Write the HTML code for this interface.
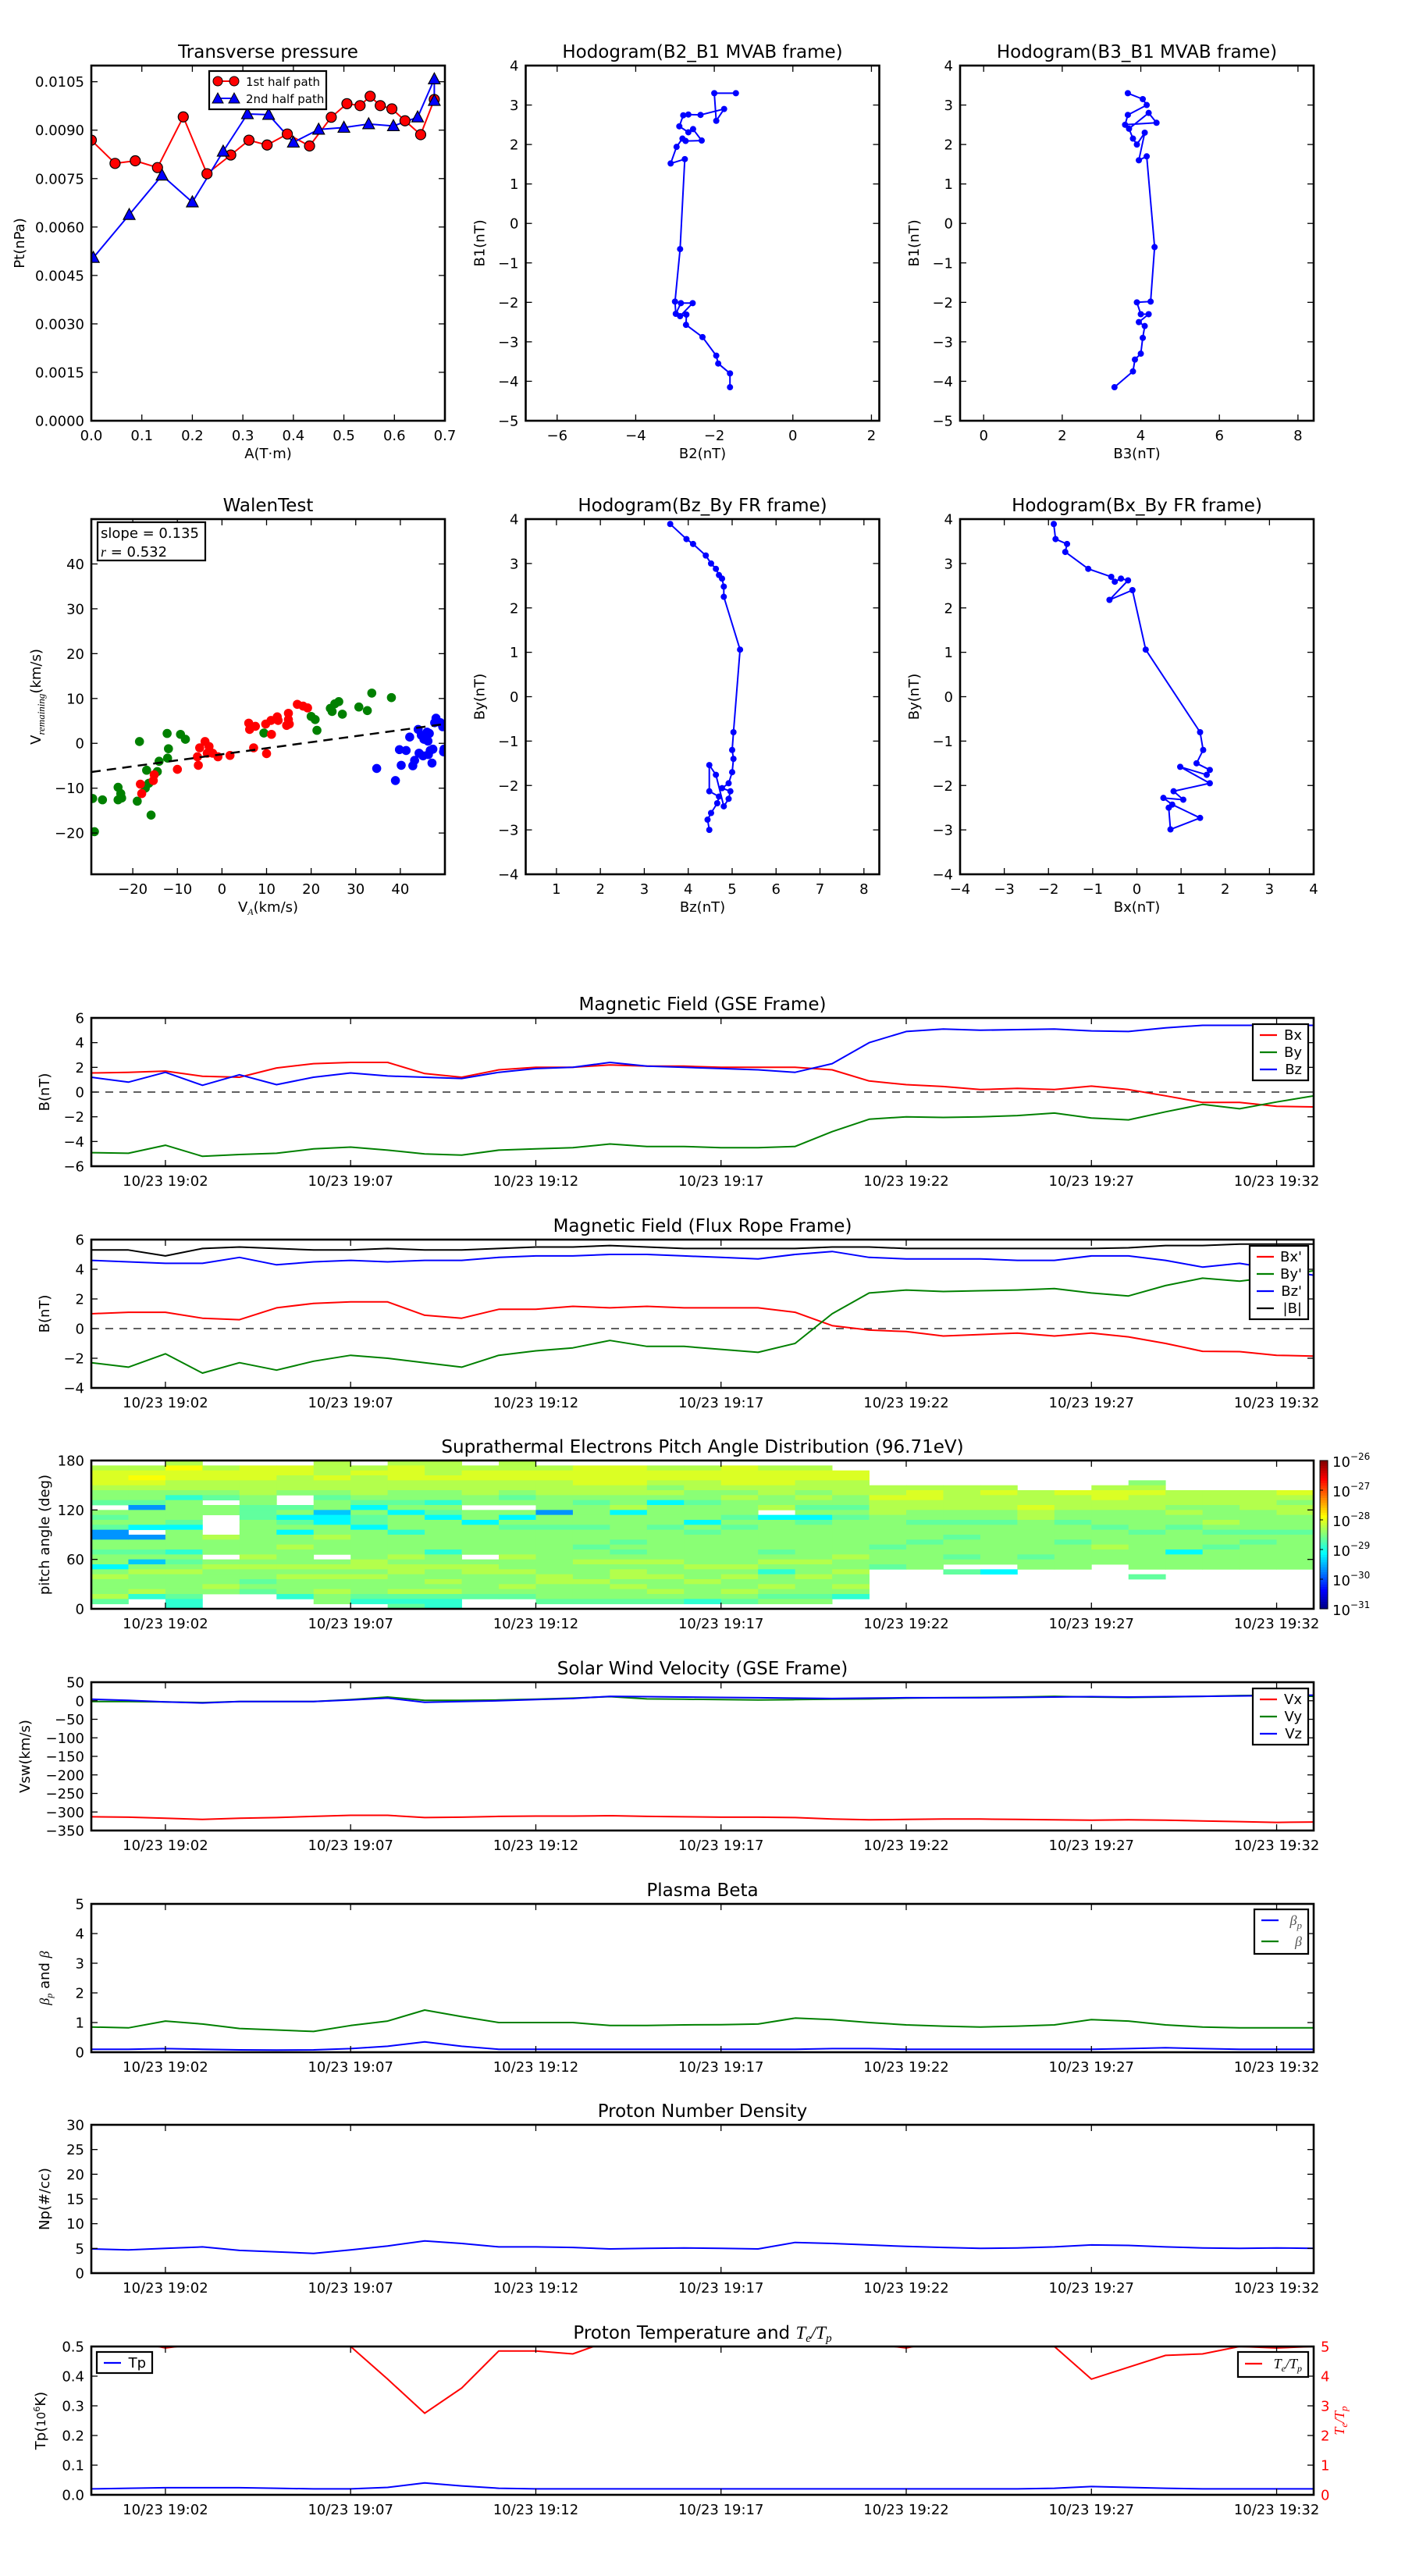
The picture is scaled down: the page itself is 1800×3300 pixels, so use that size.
<!DOCTYPE html>
<html><head><meta charset="utf-8"><style>
html,body{margin:0;padding:0;background:#fff;}
svg{display:block;font-family:"DejaVu Sans","Liberation Sans",sans-serif;}
</style></head>
<body>
<svg id="fig" width="1800" height="3300" viewBox="0 0 1800 3300" xmlns="http://www.w3.org/2000/svg"></svg>
<script>
// ---------------- DATA ----------------
const ptA1=[0,0.047,0.087,0.131,0.182,0.229,0.276,0.312,0.348,0.388,0.432,0.475,0.506,0.532,0.552,0.572,0.595,0.621,0.652,0.679];
const ptP1=[0.00869,0.00797,0.00805,0.00784,0.00941,0.00765,0.00823,0.00869,0.00854,0.00888,0.00851,0.0094,0.00982,0.00976,0.01005,0.00976,0.00966,0.00929,0.00886,0.00995];
const ptA2=[0.004,0.075,0.14,0.2,0.261,0.309,0.351,0.4,0.45,0.5,0.549,0.598,0.646,0.679,0.679];
const ptP2=[0.00505,0.00638,0.0076,0.00677,0.00834,0.0095,0.00948,0.00862,0.00902,0.00908,0.00919,0.00913,0.0094,0.01058,0.00991];
const ptXTicks=[0,0.1,0.2,0.3,0.4,0.5,0.6,0.7];
const ptYTicks=[0,0.0015,0.003,0.0045,0.006,0.0075,0.009,0.0105];
const h1B2=[-1.45,-2.0,-1.95,-1.75,-2.35,-2.66,-2.79,-2.89,-2.66,-2.54,-2.32,-2.73,-2.81,-2.96,-3.11,-2.75,-2.87,-3.0,-2.98,-2.85,-2.55,-2.87,-2.71,-2.72,-2.3,-1.95,-1.9,-1.6,-1.6];
const h1B1=[3.3,3.3,2.6,2.9,2.75,2.76,2.74,2.46,2.31,2.39,2.1,2.09,2.15,1.94,1.52,1.63,-0.65,-1.98,-2.29,-2.02,-2.02,-2.35,-2.31,-2.57,-2.88,-3.35,-3.55,-3.8,-4.15];
const h2B3=[3.67,4.05,4.15,3.67,3.6,4.4,4.2,3.7,3.8,3.9,4.1,3.95,4.15,4.35,4.25,3.9,4.0,4.2,3.95,4.1,4.05,4.0,3.85,3.8,3.33];
const h2B1=[3.3,3.15,3.0,2.75,2.5,2.55,2.8,2.4,2.15,2.0,2.3,1.6,1.7,-0.6,-1.98,-2.0,-2.3,-2.3,-2.5,-2.6,-2.9,-3.3,-3.45,-3.75,-4.15];
const wGreenX=[-29,-26.8,-28.6,-23.3,-23.3,-22.7,-22.5,-19,-18.5,-17.2,-16.9,-16.4,-15.9,-14.5,-14.1,-12.3,-12.2,-12,-9.3,-8.2,9.4,20,20.9,21.3,24.3,24.7,25.3,26.2,27,30.7,32.6,33.6,38];
const wGreenY=[-12.3,-12.6,-19.7,-9.8,-12.6,-11.2,-12.2,-12.9,0.4,-10,-6,-8.9,-16,-6.3,-4,2.2,-3.3,-1.2,2,0.9,2.3,6,5.3,2.9,7.8,7.1,8.8,9.3,6.5,8.1,7.3,11.2,10.2];
const wRedX=[-18.3,-18,-15.4,-15.2,-10,-5.5,-5.3,-5,-3.8,-2.9,-3.3,-2.1,-0.9,1.8,6,6.2,7.5,7.1,10,9.8,11,11.1,12.4,12.6,14.5,14.9,14.9,15.1,16.9,18.2,19.2];
const wRedY=[-9.1,-11.2,-8.3,-7,-5.8,-3,-4.9,-1,0.4,-0.7,-2.2,-2.2,-3,-2.7,4.5,3.1,3.8,-1,-2.3,4.3,5.1,2,5.9,5.1,4,6.7,5.3,4.3,8.7,8.3,7.9];
const wBlueX=[34.7,38.9,39.8,40.2,41.3,42.1,42.8,43.2,44,44.2,44.7,45.1,45.3,46,46.2,46.3,46.5,46.7,47.1,47.3,47.7,48,49,49.5,49.7,49.8];
const wBlueY=[-5.6,-8.3,-1.4,-4.9,-1.6,1.4,-5,-3.8,3.1,-2.2,1.8,-2.8,0.9,2.5,0.5,-2.5,2.2,-1.6,-4.4,-1.3,4.6,5.6,4.6,3.7,-1.9,-1.3];
const wSlope=[0.135];
const wIntercept=[-2.44];
const wXTicks=[-20,-10,0,10,20,30,40];
const wYTicks=[-20,-10,0,10,20,30,40];
const h3Bz=[3.59,3.96,4.11,4.4,4.52,4.63,4.7,4.77,4.81,4.81,5.18,5.03,5.0,5.03,5.0,4.92,4.77,4.96,4.92,4.81,4.63,4.48,4.48,4.7,4.66,4.52,4.44,4.48];
const h3By=[3.89,3.55,3.44,3.18,3.0,2.88,2.74,2.66,2.48,2.25,1.06,-0.8,-1.2,-1.4,-1.7,-1.95,-2.06,-2.13,-2.3,-2.47,-1.76,-1.54,-2.13,-2.25,-2.4,-2.62,-2.77,-3.0];
const h4Bx=[-1.88,-1.84,-1.58,-1.62,-1.1,-0.58,-0.5,-0.36,-0.2,-0.62,-0.1,0.2,1.43,1.5,1.35,1.65,1.58,0.98,1.65,0.83,1.05,0.6,0.8,1.43,0.76,0.72];
const h4By=[3.89,3.55,3.44,3.26,2.88,2.7,2.59,2.66,2.62,2.18,2.4,1.06,-0.8,-1.2,-1.5,-1.65,-1.76,-1.58,-1.95,-2.13,-2.32,-2.28,-2.43,-2.73,-2.99,-2.5];
const tMin=[0,1,2,3,4,5,6,7,8,9,10,11,12,13,14,15,16,17,18,19,20,21,22,23,24,25,26,27,28,29,30,31,32,33];
const timeTickMin=[2,7,12,17,22,27,32];
const timeTickLbl=["10/23 19:02","10/23 19:07","10/23 19:12","10/23 19:17","10/23 19:22","10/23 19:27","10/23 19:32"];
const gseBx=[1.55,1.6,1.7,1.28,1.2,1.95,2.3,2.4,2.4,1.5,1.2,1.8,2.0,2.0,2.2,2.1,2.1,2.0,2.0,2.0,1.8,0.9,0.6,0.45,0.2,0.3,0.2,0.48,0.2,-0.3,-0.84,-0.84,-1.15,-1.2];
const gseBy=[-4.9,-4.95,-4.3,-5.2,-5.05,-4.95,-4.6,-4.45,-4.7,-5.0,-5.1,-4.7,-4.6,-4.5,-4.2,-4.4,-4.4,-4.5,-4.5,-4.4,-3.2,-2.2,-2.0,-2.05,-2.0,-1.9,-1.7,-2.1,-2.25,-1.6,-1.0,-1.35,-0.8,-0.3];
const gseBz=[1.2,0.8,1.6,0.55,1.4,0.6,1.2,1.55,1.3,1.2,1.1,1.6,1.9,2.0,2.4,2.1,2.0,1.9,1.8,1.6,2.3,4.0,4.9,5.1,5.0,5.05,5.1,4.95,4.9,5.2,5.4,5.4,5.4,5.4];
const frBx=[1.0,1.1,1.1,0.7,0.6,1.4,1.7,1.8,1.8,0.9,0.7,1.3,1.3,1.5,1.4,1.5,1.4,1.4,1.4,1.1,0.2,-0.1,-0.2,-0.5,-0.4,-0.3,-0.5,-0.3,-0.56,-1.0,-1.53,-1.55,-1.8,-1.85];
const frBy=[-2.3,-2.6,-1.7,-3.0,-2.3,-2.8,-2.2,-1.8,-2.0,-2.3,-2.6,-1.8,-1.5,-1.3,-0.8,-1.2,-1.2,-1.4,-1.6,-1.0,1.0,2.4,2.6,2.5,2.55,2.6,2.7,2.4,2.2,2.9,3.4,3.2,3.5,3.9];
const frBz=[4.6,4.5,4.4,4.4,4.8,4.3,4.5,4.6,4.5,4.6,4.6,4.8,4.9,4.9,5.0,5.0,4.9,4.8,4.7,5.0,5.2,4.8,4.7,4.7,4.7,4.6,4.6,4.9,4.9,4.6,4.15,4.4,4.0,3.6];
const frB=[5.3,5.3,4.9,5.4,5.5,5.4,5.3,5.3,5.4,5.3,5.3,5.4,5.5,5.5,5.6,5.5,5.4,5.4,5.4,5.4,5.5,5.5,5.4,5.4,5.4,5.4,5.4,5.4,5.45,5.6,5.6,5.7,5.7,5.7];
const padCols=[
".ghhhgffe.fefeaaffeffcfgfffge..",
".ghihgffeafffc.affefbfgfffgd...",
"gihhggfdffffecffffdfefgffffedd.",
".ghhggfe.ff....gfff.fgfffgf....",
".hhhgggffeeefffffffgfgffefe....",
".hhgggf..efcefcffgfffgfgfffd...",
"ggghggfeffbccffgfff.fgfgffgff..",
".ghggggfecfeecffffffggfgfffed..",
"ghhhggffefcfffdffffgfggfffgede.",
"ggghggffdfecffffffdffgffgfgedd.",
".ghhgggff.ffcffffff.fggffffe...",
"gghhggfef.fcfefffffgffgffgfe...",
".ghhgggfffaffefffffffffggfffe..",
".hhhhggfeffffefffeffgfffgfffe..",
".hhhhggffgcfffffefefgfggfgffe..",
".ghhgfgfcffffeffffffgffgffgfe..",
".ghhggffefffcfeffffffgffgfffd..",
".hhhhgfgfffefefffffffgfgffgfe..",
".ghhhggffg.cffffffefgfdffgfef..",
".ghhggfgfefcefffffffgffgfffef..",
"..hhgggffefefffffffgffgffgfd...",
".....gghgggffffffefffe.........",
".....ghhggffefffefffff.........",
".....gggggffeffefffef.e........",
".....ghgggffeffffffff.c........",
"......ggghggfffffffeff.........",
"......hgggffefffefffff.........",
".....ghhggfffefffgfff..........",
"....fghgggffffefffffff.e.......",
"......gggfgffeffffcfff.........",
"......gggfffgfeffeffff.........",
"......ggggffffefefffff.........",
"......hgfggfffefffffff........."
];
const padLevels={a:0.27,b:0.32,c:0.37,d:0.42,e:0.47,f:0.51,g:0.55,h:0.59,i:0.62};
const cbTicks=[-26,-27,-28,-29,-30,-31];
const vx=[-313,-314,-317,-320,-317,-315,-312,-309,-309,-315,-314,-312,-311,-311,-310,-312,-313,-314,-314,-315,-319,-321,-320,-319,-319,-320,-321,-322,-321,-322,-324,-326,-328,-327];
const vy=[-2,-2,-3,-5,-2,-2,-2,3,10,1,1,2,4,7,11,5,4,3,2,3,4,5,7,8,9,10,12,10,9,10,12,14,15,12];
const vz=[4,1,-3,-6,-2,-2,-2,2,7,-4,-2,0,3,6,12,11,10,9,8,7,6,7,8,8,8,9,10,11,10,11,12,13,14,15];
const betaP=[0.1,0.1,0.12,0.1,0.08,0.07,0.08,0.12,0.2,0.35,0.2,0.1,0.1,0.1,0.1,0.1,0.1,0.1,0.1,0.1,0.12,0.12,0.1,0.1,0.1,0.1,0.1,0.1,0.12,0.15,0.12,0.1,0.1,0.1];
const betaT=[0.85,0.82,1.05,0.95,0.8,0.75,0.7,0.9,1.05,1.42,1.2,1.0,1.0,1.0,0.9,0.9,0.92,0.93,0.95,1.15,1.1,1.0,0.92,0.88,0.85,0.88,0.92,1.1,1.05,0.92,0.85,0.82,0.82,0.82];
const np=[4.9,4.7,5.0,5.3,4.6,4.3,4.0,4.7,5.5,6.5,6.0,5.3,5.3,5.2,4.9,5.0,5.1,5.0,4.9,6.2,6.0,5.7,5.4,5.2,5.0,5.1,5.3,5.7,5.6,5.3,5.1,5.0,5.1,5.0];
const tp=[0.02,0.022,0.024,0.024,0.024,0.022,0.02,0.02,0.025,0.04,0.03,0.022,0.02,0.02,0.02,0.02,0.02,0.02,0.02,0.02,0.02,0.02,0.02,0.02,0.02,0.02,0.022,0.028,0.025,0.022,0.02,0.02,0.02,0.02];
const teTp=[5.4,5.2,4.95,5.1,5.3,5.2,5.1,5.0,3.9,2.75,3.6,4.85,4.85,4.75,5.2,5.5,5.4,5.3,5.4,5.3,5.2,5.1,4.95,5.2,5.3,5.2,5.0,3.9,4.3,4.7,4.75,5.0,4.95,5.0];

// ---------------- DRAWING ----------------
const NS='http://www.w3.org/2000/svg';
const svg=document.getElementById('fig');
let clipN=0;
function mk(tag,attrs,name,parent){
  const el=document.createElementNS(NS,tag);
  for(const k in attrs) el.setAttribute(k,attrs[k]);
  
  
  (parent||svg).appendChild(el);
  return el;
}
function txt(x,y,html,size,anchor,name,extra,parent){
  const a={x:x,y:y,'font-size':size,'text-anchor':anchor||'middle',fill:'#000'};
  if(extra) for(const k in extra) a[k]=extra[k];
  const el=mk('text',a,name,parent);
  el.innerHTML=html;
  return el;
}
function axes(o){
  const g=mk('g',{},o.name);
  const sx=v=>o.x+(v-o.xmin)/(o.xmax-o.xmin)*o.w;
  const sy=v=>o.y+o.h-(v-o.ymin)/(o.ymax-o.ymin)*o.h;
  const cid='clip'+(clipN++);
  const cp=mk('clipPath',{id:cid},'clip-region',g);
  mk('rect',{x:o.x,y:o.y,width:o.w,height:o.h},'clip-rect',cp);
  const data=mk('g',{'clip-path':'url(#'+cid+')'},'plot-area',g);
  return {g,sx,sy,data,o};
}
function finishAxes(A,xt,xl,yt,yl,opt){
  const o=A.o,g=A.g;opt=opt||{};
  const tl=8;
  xt.forEach((v,i)=>{
    const X=A.sx(v);
    mk('line',{x1:X,x2:X,y1:o.y+o.h,y2:o.y+o.h-tl,stroke:'#000','stroke-width':1.3},'x-tick',g);
    mk('line',{x1:X,x2:X,y1:o.y,y2:o.y+tl,stroke:'#000','stroke-width':1.3},'x-tick-top',g);
    txt(X,o.y+o.h+25,xl[i],18,'middle','x-tick-label',null,g);
  });
  yt.forEach((v,i)=>{
    const Y=A.sy(v);
    mk('line',{x1:o.x,x2:o.x+tl,y1:Y,y2:Y,stroke:'#000','stroke-width':1.3},'y-tick',g);
    if(!opt.noRightTicks) mk('line',{x1:o.x+o.w,x2:o.x+o.w-tl,y1:Y,y2:Y,stroke:'#000','stroke-width':1.3},'y-tick-right',g);
    txt(o.x-9,Y+6.5,yl[i],18,'end','y-tick-label',null,g);
  });
  mk('rect',{x:o.x,y:o.y,width:o.w,height:o.h,fill:'none',stroke:'#000','stroke-width':2.6},'axes-frame',g);
  if(o.title) txt(o.x+o.w/2,o.y-10,o.title,23,'middle','chart-title',null,g);
  if(o.xlabel) txt(o.x+o.w/2,o.y+o.h+o.xlabOff,o.xlabel,18,'middle','x-axis-title',null,g);
  if(o.ylabel){txt(o.ylabX,o.y+o.h/2,o.ylabel,18,'middle','y-axis-title',{transform:'rotate(-90 '+o.ylabX+' '+(o.y+o.h/2)+')'},g);}
}
function polyline(A,xs,ys,color,name,w){
  const pts=xs.map((x,i)=>A.sx(x).toFixed(1)+','+A.sy(ys[i]).toFixed(1)).join(' ');
  return mk('polyline',{points:pts,fill:'none',stroke:color,'stroke-width':w||2,'stroke-linejoin':'round'},name,A.data);
}
function dots(A,xs,ys,color,r,name,stroke){
  xs.forEach((x,i)=>{
    mk('circle',{cx:A.sx(x),cy:A.sy(ys[i]),r:r,fill:color,stroke:stroke||'none','stroke-width':1.2},name,A.data);
  });
}
function tris(A,xs,ys,color,name){
  xs.forEach((x,i)=>{
    const X=A.sx(x),Y=A.sy(ys[i]);
    mk('polygon',{points:`${X},${Y-8} ${X-7.5},${Y+6} ${X+7.5},${Y+6}`,fill:color,stroke:'#000','stroke-width':1.2},name,A.data);
  });
}
function legend(x,y,w,h,entries,rowH,name){
  const g=mk('g',{},name);
  mk('rect',{x:x,y:y,width:w,height:h,fill:'#fff',stroke:'#000','stroke-width':2.2},'legend-box',g);
  entries.forEach((e,i)=>{
    const Y=y+14+rowH*i+(e.dy||0);
    mk('line',{x1:x+9,x2:x+31,y1:Y,y2:Y,stroke:e.color,'stroke-width':2.2},'legend-line-'+e.key,g);
    txt(x+w-8,Y+6,e.label,18,'end','legend-label-'+e.key,e.tattr||null,g);
  });
}
const fmtInt=v=>(v<0?'\u2212':'')+Math.abs(v);

const R1Y=84,RH=455,PW=453,PX=[117,673.5,1230],R2Y=665;
{
  const A=axes({name:'transverse-pressure-chart',x:PX[0],y:R1Y,w:PW,h:RH,xmin:0,xmax:0.7,ymin:0,ymax:0.011,title:'Transverse pressure',xlabel:'A(T·m)',xlabOff:48,ylabel:'Pt(nPa)',ylabX:31});
  polyline(A,ptA1,ptP1,'#ff0000','first-half-line',2);
  polyline(A,ptA2,ptP2,'#0000ff','second-half-line',2);
  dots(A,ptA1,ptP1,'#ff0000',6.5,'first-half-marker','#000');
  tris(A,ptA2,ptP2,'#0000ff','second-half-marker');
  finishAxes(A,ptXTicks,ptXTicks.map(v=>v.toFixed(1)),ptYTicks,ptYTicks.map(v=>v.toFixed(4)));
  const g=mk('g',{},'legend');
  mk('rect',{x:268,y:91,width:150,height:49,fill:'#fff',stroke:'#000','stroke-width':2.2},'legend-box',g);
  mk('line',{x1:279,x2:300,y1:104,y2:104,stroke:'#f00','stroke-width':2},'legend-line-first',g);
  mk('circle',{cx:279,cy:104,r:6,fill:'#f00',stroke:'#000'},'legend-marker-first',g);
  mk('circle',{cx:300,cy:104,r:6,fill:'#f00',stroke:'#000'},'legend-marker-first',g);
  txt(315,110,'1st half path',15,'start','legend-label-first',null,g);
  mk('line',{x1:279,x2:300,y1:126,y2:126,stroke:'#00f','stroke-width':2},'legend-line-second',g);
  mk('polygon',{points:'279,119 272,132 286,132',fill:'#00f',stroke:'#000'},'legend-marker-second',g);
  mk('polygon',{points:'300,119 293,132 307,132',fill:'#00f',stroke:'#000'},'legend-marker-second',g);
  txt(315,132,'2nd half path',15,'start','legend-label-second',null,g);
}
{
  const A=axes({name:'hodogram-b2-b1-chart',x:PX[1],y:R1Y,w:PW,h:RH,xmin:-6.8,xmax:2.2,ymin:-5,ymax:4,title:'Hodogram(B2_B1 MVAB frame)',xlabel:'B2(nT)',xlabOff:48,ylabel:'B1(nT)',ylabX:PX[1]-53});
  polyline(A,h1B2,h1B1,'#0000ff','hodogram-path',2);
  dots(A,h1B2,h1B1,'#0000ff',4,'hodogram-point');
  const xt=[-6,-4,-2,0,2],yt=[-5,-4,-3,-2,-1,0,1,2,3,4];
  finishAxes(A,xt,xt.map(fmtInt),yt,yt.map(fmtInt));
}
{
  const A=axes({name:'hodogram-b3-b1-chart',x:PX[2],y:R1Y,w:PW,h:RH,xmin:-0.6,xmax:8.4,ymin:-5,ymax:4,title:'Hodogram(B3_B1 MVAB frame)',xlabel:'B3(nT)',xlabOff:48,ylabel:'B1(nT)',ylabX:PX[2]-53});
  polyline(A,h2B3,h2B1,'#0000ff','hodogram-path',2);
  dots(A,h2B3,h2B1,'#0000ff',4,'hodogram-point');
  const xt=[0,2,4,6,8],yt=[-5,-4,-3,-2,-1,0,1,2,3,4];
  finishAxes(A,xt,xt.map(fmtInt),yt,yt.map(fmtInt));
}
{
  const A=axes({name:'walen-test-chart',x:PX[0],y:R2Y,w:PW,h:RH,xmin:-29.3,xmax:50,ymin:-29.2,ymax:50,title:'WalenTest',xlabel:'V<tspan font-size="12" dy="4" font-style="italic" font-family="Liberation Serif, serif">A</tspan><tspan dy="-4">(km/s)</tspan>',xlabOff:48,ylabel:'V<tspan font-size="13" dy="5" font-style="italic" font-family="Liberation Serif, serif">remaining</tspan><tspan dy="-5">(km/s)</tspan>',ylabX:52});
  dots(A,wGreenX,wGreenY,'#008000',5.8,'walen-point-green');
  dots(A,wRedX,wRedY,'#ff0000',5.8,'walen-point-red');
  dots(A,wBlueX,wBlueY,'#0000ff',5.8,'walen-point-blue');
  const xa=[-29.3,50];
  mk('line',{x1:A.sx(xa[0]),y1:A.sy(wSlope[0]*xa[0]+wIntercept[0]),x2:A.sx(xa[1]),y2:A.sy(wSlope[0]*xa[1]+wIntercept[0]),stroke:'#000','stroke-width':2.5,'stroke-dasharray':'12,8'},'regression-line',A.data);
  finishAxes(A,wXTicks,wXTicks.map(fmtInt),wYTicks,wYTicks.map(fmtInt));
  mk('rect',{x:125,y:669,width:138,height:49,fill:'#fff',stroke:'#000','stroke-width':2.2},'stats-box');
  txt(129,689,'slope = 0.135',18,'start','slope-text');
  txt(129,713,'<tspan font-style="italic" font-family="Liberation Serif, serif">r</tspan> = 0.532',18,'start','r-text');
}
{
  const A=axes({name:'hodogram-bz-by-chart',x:PX[1],y:R2Y,w:PW,h:RH,xmin:0.3,xmax:8.35,ymin:-4,ymax:4,title:'Hodogram(Bz_By FR frame)',xlabel:'Bz(nT)',xlabOff:48,ylabel:'By(nT)',ylabX:PX[1]-53});
  polyline(A,h3Bz,h3By,'#0000ff','hodogram-path',2);
  dots(A,h3Bz,h3By,'#0000ff',4,'hodogram-point');
  const xt=[1,2,3,4,5,6,7,8],yt=[-4,-3,-2,-1,0,1,2,3,4];
  finishAxes(A,xt,xt.map(fmtInt),yt,yt.map(fmtInt));
}
{
  const A=axes({name:'hodogram-bx-by-chart',x:PX[2],y:R2Y,w:PW,h:RH,xmin:-4,xmax:4,ymin:-4,ymax:4,title:'Hodogram(Bx_By FR frame)',xlabel:'Bx(nT)',xlabOff:48,ylabel:'By(nT)',ylabX:PX[2]-53});
  polyline(A,h4Bx,h4By,'#0000ff','hodogram-path',2);
  dots(A,h4Bx,h4By,'#0000ff',4,'hodogram-point');
  const xt=[-4,-3,-2,-1,0,1,2,3,4],yt=[-4,-3,-2,-1,0,1,2,3,4];
  finishAxes(A,xt,xt.map(fmtInt),yt,yt.map(fmtInt));
}
const TX=117,TW=1566,TH=190,TT=[1304,1588,1871,2155,2439,2722,3006];
function ts(i,name,title,ymin,ymax,ylabel,ylabX){
  return axes({name:name,x:TX,y:TT[i],w:TW,h:TH,xmin:0,xmax:33,ymin:ymin,ymax:ymax,title:title,ylabel:ylabel,ylabX:ylabX||63});
}
function zeroLine(A){mk('line',{x1:A.o.x,x2:A.o.x+A.o.w,y1:A.sy(0),y2:A.sy(0),stroke:'#000','stroke-width':1.3,'stroke-dasharray':'10,8'},'zero-line',A.data);}
{
  const A=ts(0,'magnetic-field-gse-chart','Magnetic Field (GSE Frame)',-6,6,'B(nT)');
  zeroLine(A);
  polyline(A,tMin,gseBx,'#ff0000','bx-line');
  polyline(A,tMin,gseBy,'#008000','by-line');
  polyline(A,tMin,gseBz,'#0000ff','bz-line');
  const yt=[-6,-4,-2,0,2,4,6];
  finishAxes(A,timeTickMin,timeTickLbl,yt,yt.map(fmtInt));
  legend(1605,1312,71,72,[{key:'bx',color:'#f00',label:'Bx'},{key:'by',color:'#008000',label:'By'},{key:'bz',color:'#00f',label:'Bz'}],22,'legend');
}
{
  const A=ts(1,'magnetic-field-fr-chart','Magnetic Field (Flux Rope Frame)',-4,6,'B(nT)');
  zeroLine(A);
  polyline(A,tMin,frBx,'#ff0000','bx-prime-line');
  polyline(A,tMin,frBy,'#008000','by-prime-line');
  polyline(A,tMin,frBz,'#0000ff','bz-prime-line');
  polyline(A,tMin,frB,'#000000','b-magnitude-line');
  const yt=[-4,-2,0,2,4,6];
  finishAxes(A,timeTickMin,timeTickLbl,yt,yt.map(fmtInt));
  legend(1601,1596,75,94,[{key:'bx',color:'#f00',label:"Bx'"},{key:'by',color:'#008000',label:"By'"},{key:'bz',color:'#00f',label:"Bz'"},{key:'b',color:'#000',label:'|B|'}],22,'legend');
}
function jet(v){
  const c=t=>Math.round(255*Math.max(0,Math.min(1,t)));
  return `rgb(${c(1.5-Math.abs(4*v-3))},${c(1.5-Math.abs(4*v-2))},${c(1.5-Math.abs(4*v-1))})`;
}
{
  const A=ts(2,'pitch-angle-chart','Suprathermal Electrons Pitch Angle Distribution (96.71eV)',0,180,'pitch angle (deg)');
  padCols.forEach((s0,ci)=>{
    const s=s0.slice(0,30);
    for(let r=0;r<30;r++){
      const ch=s[r];
      if(!ch||ch==='.'||!(ch in padLevels)) continue;
      const top=180-r*6;
      const x0=A.sx(ci),x1=A.sx(ci+1),y0=A.sy(top),y1=A.sy(top-6);
      mk('rect',{x:x0,y:y0,width:x1-x0+0.4,height:y1-y0+0.4,fill:jet(padLevels[ch])},'pad-cell',A.data);
    }
  });
  const yt=[0,60,120,180];
  finishAxes(A,timeTickMin,timeTickLbl,yt,yt.map(String));
  const g=mk('g',{},'colorbar');
  const cx=1691,cw=10,cy=TT[2],ch=TH;
  for(let k=0;k<60;k++){
    mk('rect',{x:cx,y:cy+ch*(1-(k+1)/60),width:cw,height:ch/60+0.5,fill:jet((k+0.5)/60)},'colorbar-segment',g);
  }
  mk('rect',{x:cx,y:cy,width:cw,height:ch,fill:'none',stroke:'#000','stroke-width':1},'colorbar-frame',g);
  cbTicks.forEach((v,i)=>{
    const Y=cy+ch*(-26-v)/5;
    mk('line',{x1:cx,x2:cx+4,y1:Y,y2:Y,stroke:'#000'},'colorbar-tick',g);
    txt(cx+16,Y+8,'10<tspan font-size="12" dy="-9">'+fmtInt(v)+'</tspan>',18,'start','colorbar-label',null,g);
  });
}
{
  const A=ts(3,'solar-wind-velocity-chart','Solar Wind Velocity (GSE Frame)',-350,50,'Vsw(km/s)',38);
  polyline(A,tMin,vx,'#ff0000','vx-line');
  polyline(A,tMin,vy,'#008000','vy-line');
  polyline(A,tMin,vz,'#0000ff','vz-line');
  const yt=[-350,-300,-250,-200,-150,-100,-50,0,50];
  finishAxes(A,timeTickMin,timeTickLbl,yt,yt.map(fmtInt));
  legend(1605,2163,71,72,[{key:'vx',color:'#f00',label:'Vx'},{key:'vy',color:'#008000',label:'Vy'},{key:'vz',color:'#00f',label:'Vz'}],22,'legend');
}
{
  const A=ts(4,'plasma-beta-chart','Plasma Beta',0,5,'<tspan font-style="italic" font-family="Liberation Serif, serif">β<tspan font-size="12" dy="4">p</tspan></tspan><tspan dy="-4"> and </tspan><tspan font-style="italic" font-family="Liberation Serif, serif">β</tspan>');
  polyline(A,tMin,betaP,'#0000ff','beta-p-line');
  polyline(A,tMin,betaT,'#008000','beta-line');
  const yt=[0,1,2,3,4,5];
  finishAxes(A,timeTickMin,timeTickLbl,yt,yt.map(String));
  legend(1607,2446,69,57,[{key:'betap',color:'#00f',label:'β<tspan font-size="13" dy="5">p</tspan>',tattr:{'font-style':'italic','font-family':'Liberation Serif, serif',fill:'#555'}},{key:'beta',color:'#008000',label:'β',tattr:{'font-style':'italic','font-family':'Liberation Serif, serif',fill:'#555'},dy:5}],22,'legend');
}
{
  const A=ts(5,'proton-density-chart','Proton Number Density',0,30,'Np(#/cc)');
  polyline(A,tMin,np,'#0000ff','density-line');
  const yt=[0,5,10,15,20,25,30];
  finishAxes(A,timeTickMin,timeTickLbl,yt,yt.map(String));
}
{
  const A=ts(6,'proton-temperature-chart','Proton Temperature and <tspan font-style="italic" font-family="Liberation Serif, serif">T<tspan font-size="15" dy="4">e</tspan><tspan dy="-4">/T</tspan><tspan font-size="15" dy="4">p</tspan></tspan>',0,0.5,'Tp(<tspan font-size="15">10<tspan font-size="11" dy="-7">6</tspan></tspan><tspan dy="7">K)</tspan>',58);
  const sy2=v=>A.o.y+A.o.h-v/5*A.o.h;
  const pts=tMin.map((m,i)=>A.sx(m).toFixed(1)+','+sy2(teTp[i]).toFixed(1)).join(' ');
  mk('polyline',{points:pts,fill:'none',stroke:'#ff0000','stroke-width':2},'te-tp-line',A.data);
  polyline(A,tMin,tp,'#0000ff','tp-line');
  const yt=[0,0.1,0.2,0.3,0.4,0.5];
  finishAxes(A,timeTickMin,timeTickLbl,yt,yt.map(v=>v.toFixed(1)),{noRightTicks:true});
  const yt2=[0,1,2,3,4,5];
  yt2.forEach(v=>{
    const Y=sy2(v);
    mk('line',{x1:TX+TW,x2:TX+TW-8,y1:Y,y2:Y,stroke:'#000','stroke-width':1.3},'right-y-tick',A.g);
    txt(TX+TW+9,Y+6.5,String(v),18,'start','right-y-tick-label',{fill:'#ff0000'},A.g);
  });
  const yc=TT[6]+TH/2;
  txt(1722,yc,'T<tspan font-size="13" dy="4">e</tspan><tspan dy="-4">/T</tspan><tspan font-size="13" dy="4">p</tspan>',18,'middle','right-axis-title',{fill:'#ff0000','font-style':'italic','font-family':'Liberation Serif, serif',transform:'rotate(-90 1722 '+yc+')'},A.g);
  legend(124,3013,71,27,[{key:'tp',color:'#00f',label:'Tp'}],22,'legend-tp');
  legend(1586,3013,90,32,[{key:'tetp',color:'#f00',label:'T<tspan font-size="12" dy="4">e</tspan><tspan dy="-4">/T</tspan><tspan font-size="12" dy="4">p</tspan>',tattr:{'font-style':'italic','font-family':'Liberation Serif, serif'},dy:1}],22,'legend-te-tp');
}
</script>
</body></html>
